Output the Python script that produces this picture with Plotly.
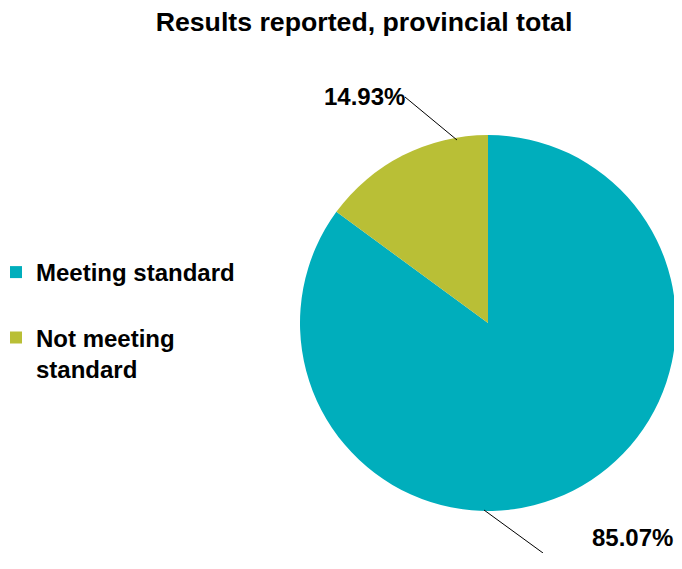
import plotly.graph_objects as go

categories = ["Meeting standard", "Not meeting standard"]
legend_labels = ["Meeting standard<br> ", "Not meeting<br>standard"]
values = [85.07, 14.93]
value_labels = ["85.07%", "14.93%"]
colors = ["#00AEBC", "#B9BF36"]

# the page body has an 8px margin; figure sized so no scrollbars appear
OFF = 8
W, H = 682 - OFF, 569 - 2 * OFF - 8
# pie geometry in page pixels
cx, cy, r = 488, 323, 188


def px(x, y):
    """page pixel -> paper coords"""
    return (x - OFF) / W, (H - (y - OFF)) / H


dx0, dy0 = px(cx - r, cy + r)
dx1, dy1 = px(cx + r, cy - r)

fig = go.Figure(go.Pie(
    labels=legend_labels,
    values=values,
    sort=False,
    direction="clockwise",
    rotation=0,
    textinfo="none",
    hoverinfo="skip",
    marker=dict(colors=colors, line=dict(width=0)),
    domain=dict(x=[dx0, min(dx1, 1)], y=[dy0, dy1]),
))

FONT = "Liberation Sans, Arial, sans-serif"
shapes = []
annotations = []
lines = [((484, 510), (543, 566)), ((457, 140), (405, 97))]
label_pos = [(632, 567, "bottom"), (364, 97, "middle")]
for (p0, p1) in lines:
    x0, y0 = px(*p0)
    x1, y1 = px(*p1)
    shapes.append(dict(type="line", xref="paper", yref="paper", x0=x0, y0=max(y0, 0), x1=x1, y1=max(y1, 0),
                       line=dict(color="black", width=1)))
for (x, y, ya), t in zip(label_pos, value_labels):
    xx, yy = px(x, y)
    annotations.append(dict(x=xx, y=max(yy, 0), xref="paper", yref="paper", text=f"<b>{t}</b>",
                            xanchor="center", yanchor=ya,
                            showarrow=False, font=dict(size=24, color="black", family=FONT)))

tx, ty = px(364, 22)
lx, ly = px(-4, 250)
fig.update_layout(
    width=W, height=H,
    margin=dict(l=0, r=0, t=0, b=0, autoexpand=False),
    paper_bgcolor="white",
    plot_bgcolor="white",
    title=dict(text="<b>Results reported, provincial total</b>", x=tx, xanchor="center",
               y=ty, yanchor="middle",
               font=dict(size=26.7, color="black", family=FONT)),
    showlegend=True,
    legend=dict(x=lx, xanchor="left", y=ly, yanchor="top",
                valign="top", font=dict(size=24, color="black", family=FONT, weight="bold"),
                bgcolor="rgba(0,0,0,0)"),
    shapes=shapes,
    annotations=annotations,
)
fig.write_html("out.html")
